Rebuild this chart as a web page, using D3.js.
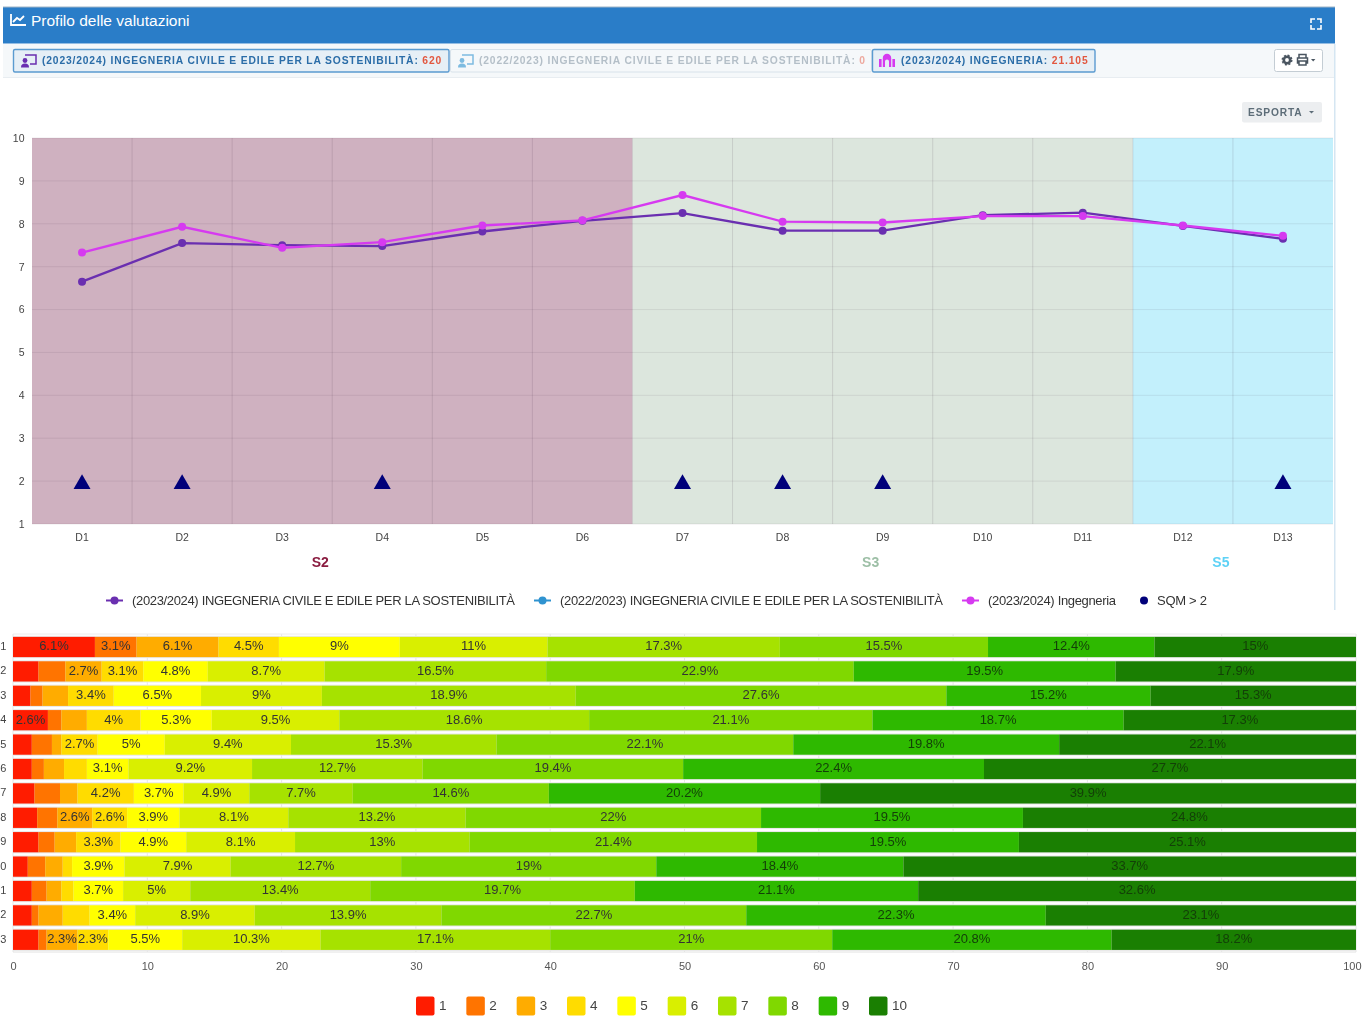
<!DOCTYPE html>
<html><head><meta charset="utf-8">
<script src="https://cdn.jsdelivr.net/npm/d3@7/dist/d3.min.js"></script>
<style>
html,body{margin:0;padding:0;background:#fff;overflow:hidden}
svg{display:block;font-family:"Liberation Sans",Arial,sans-serif;filter:blur(0.45px)}
</style></head><body><svg id="c" width="1362" height="1020"></svg>
<script>
// ---- data
const dims = ["D1","D2","D3","D4","D5","D6","D7","D8","D9","D10","D11","D12","D13"];
const cdsLine = [6.65,7.55,7.5,7.48,7.82,8.07,8.25,7.84,7.84,8.2,8.26,7.95,7.65];
const areaLine = [7.33,7.93,7.44,7.57,7.96,8.08,8.67,8.05,8.03,8.18,8.18,7.96,7.72];
const sqmFlagged = ["D1","D2","D4","D7","D8","D9","D13"];
const sqmValue = 2;
const sectionNames = ["S2","S3","S5"];
const sectionFirst = ["D1","D7","D12"];
const sectionLast = ["D6","D11","D13"];
const sectionFill = ["#cfb1c0","#dce6dd","#c3f0fc"];
const sectionText = ["#8a1c40","#9dbfa6","#5ed2f6"];
const yTicks = [1,2,3,4,5,6,7,8,9,10];
const legendTop = ["(2023/2024) INGEGNERIA CIVILE E EDILE PER LA SOSTENIBILITÀ","(2022/2023) INGEGNERIA CIVILE E EDILE PER LA SOSTENIBILITÀ","(2023/2024) Ingegneria","SQM > 2"];
const legendTopColors = ["#6a2fb0","#2f93d0","#d63af0","#00007a"];

const rowLabels = ["1","2","3","4","5","6","7","8","9","0","1","2","3"];
const row1 = [6.1,3.1,6.1,4.5,9,11,17.3,15.5,12.4,15];
const row2 = [1.9,2.0,2.7,3.1,4.8,8.7,16.5,22.9,19.5,17.9];
const row3 = [1.3,0.9,1.9,3.4,6.5,9,18.9,27.6,15.2,15.3];
const row4 = [2.6,1.0,1.9,4,5.3,9.5,18.6,21.1,18.7,17.3];
const row5 = [1.4,1.5,0.7,2.7,5,9.4,15.3,22.1,19.8,22.1];
const row6 = [1.4,0.9,1.5,1.7,3.1,9.2,12.7,19.4,22.4,27.7];
const row7 = [1.6,1.9,1.3,4.2,3.7,4.9,7.7,14.6,20.2,39.9];
const row8 = [1.8,1.5,2.6,2.6,3.9,8.1,13.2,22,19.5,24.8];
const row9 = [1.9,1.2,1.6,3.3,4.9,8.1,13,21.4,19.5,25.1];
const row10 = [1.1,1.3,1.3,0.7,3.9,7.9,12.7,19,18.4,33.7];
const row11 = [1.4,1.1,1.1,0.9,3.7,5,13.4,19.7,21.1,32.6];
const row12 = [1.4,0.5,1.8,2,3.4,8.9,13.9,22.7,22.3,23.1];
const row13 = [1.9,0.6,2.3,2.3,5.5,10.3,17.1,21,20.8,18.2];
const grades = ["1","2","3","4","5","6","7","8","9","10"];
const gradeColors = ["#ff1c00","#ff7400","#ffac00","#ffdc00","#ffff00","#d9ef00","#a6e200","#80d800","#2eb900","#1a7f02"];
const xTicks = [0,10,20,30,40,50,60,70,80,90,100];

const rows = [row1,row2,row3,row4,row5,row6,row7,row8,row9,row10,row11,row12,row13];
const svg = d3.select("#c");

// ---- panel chrome
svg.append("rect").attr("x",3).attr("y",7).attr("width",1332).attr("height",36.5).attr("fill","#2a7dc8");
svg.append("rect").attr("x",3).attr("y",6.5).attr("width",1332).attr("height",1).attr("fill","#9fb6c8");
svg.append("rect").attr("x",3).attr("y",44).attr("width",1332).attr("height",33.5).attr("fill","#f5f8fa");
svg.append("rect").attr("x",3).attr("y",77).attr("width",1332).attr("height",1).attr("fill","#e8edf1");
svg.append("rect").attr("x",1334).attr("y",44).attr("width",1.5).attr("height",566).attr("fill","#d5e6f2");
const hdr = svg.append("g");
hdr.append("path").attr("d","M11 14v11h15M13 22l4-4 3 2 4-4").attr("fill","none").attr("stroke","#fff").attr("stroke-width",1.8);
hdr.append("text").attr("x",31).attr("y",25.5).attr("fill","#fff").attr("font-size",15.5).text("Profilo delle valutazioni");
hdr.append("path").attr("d","M1311 23v-4h4M1317 19h4v4M1321 25v4h-4M1315 29h-4v-4").attr("fill","none").attr("stroke","#fff").attr("stroke-width",1.6);

const pills = [
 {x:13,w:435.5,faded:false,ls:0.84,label:"(2023/2024) INGEGNERIA CIVILE E EDILE PER LA SOSTENIBILITÀ: ",num:"620",icon:"#6a2fb0",kind:"screen"},
 {x:450,w:421,faded:true,ls:0.84,label:"(2022/2023) INGEGNERIA CIVILE E EDILE PER LA SOSTENIBILITÀ: ",num:"0",icon:"#2f93d0",kind:"screen"},
 {x:872,w:222.5,faded:false,ls:0.87,label:"(2023/2024) INGEGNERIA: ",num:"21.105",icon:"#d63af0",kind:"building"}];
pills.forEach(p=>{
  const g = svg.append("g");
  g.append("rect").attr("x",p.x+.5).attr("y",49.5).attr("width",p.w).attr("height",22.5).attr("rx",1.5)
    .attr("fill",p.faded?"#f5f8fa":"#e6eff6").attr("stroke",p.faded?"#d8e2ea":"#5b9bd0").attr("stroke-width",p.faded?1:1.4);
  const ic = g.append("g").attr("transform",`translate(${p.x+7},53)`).attr("opacity",p.faded?.6:1);
  if(p.kind==="screen"){
    ic.append("path").attr("d","M5 2H16V11H10").attr("fill","none").attr("stroke",p.icon).attr("stroke-width",1.5);
    ic.append("circle").attr("cx",5).attr("cy",7.5).attr("r",2.4).attr("fill",p.icon);
    ic.append("path").attr("d","M1 14.5c0-3 1.5-4 4-4s4 1 4 4z").attr("fill",p.icon);
  } else {
    ic.append("path").attr("d","M0 14V6h2.6v8zM13.4 14V6H16v8zM3.8 14V5a4.2 4.2 0 0 1 8.4 0V14H10V8.5a2 2 0 0 0-4 0V14z").attr("fill",p.icon);
  }
  const t = g.append("text").attr("x",p.x+29).attr("y",63.5).attr("font-size",10.3).attr("font-weight","bold").attr("letter-spacing",p.ls);
  t.append("tspan").attr("fill",p.faded?"#b4bfc8":"#2b6da8").text(p.label);
  t.append("tspan").attr("fill",p.faded?"#eda99f":"#e2573f").text(p.num);
});
const tool = svg.append("g");
tool.append("rect").attr("x",1274.5).attr("y",49.5).attr("width",48).attr("height",22).attr("rx",2).attr("fill","#fff").attr("stroke","#c4cdd4");
tool.append("circle").attr("cx",1287).attr("cy",60).attr("r",3.2).attr("fill","none").attr("stroke","#4a5560").attr("stroke-width",2.6);
tool.append("circle").attr("cx",1287).attr("cy",60).attr("r",4.8).attr("fill","none").attr("stroke","#4a5560").attr("stroke-width",1.4).attr("stroke-dasharray","2 1.77");
tool.append("path").attr("d","M1299 58v-3.5h7V58M1299 63h-1.5v-5h10v5H1306M1299 61h7v4h-7z").attr("fill","none").attr("stroke","#4a5560").attr("stroke-width",1.5);
tool.append("path").attr("d","M1311 59l4.4 0-2.2 2.4z").attr("fill","#4a5560");
const exp = svg.append("g");
exp.append("rect").attr("x",1242).attr("y",102).attr("width",80).attr("height",20.5).attr("rx",2).attr("fill","#eceef0");
exp.append("text").attr("x",1248).attr("y",116).attr("font-size",10.2).attr("font-weight","bold").attr("letter-spacing",0.85).attr("fill","#5d6d78").text("ESPORTA");
exp.append("path").attr("d","M1309 111l5 0-2.5 2.6z").attr("fill","#5d6d78");

// ---- profile chart
const x = d3.scaleBand().domain(dims).range([32,1333]);
const y = d3.scaleLinear().domain([1,10]).range([524,138]);
const upper = svg.append("g");
sectionNames.forEach((n,i)=>{
  const x0 = x(sectionFirst[i]), x1 = x(sectionLast[i])+x.bandwidth();
  upper.append("rect").attr("x",x0).attr("y",y(10)).attr("width",x1-x0).attr("height",y(1)-y(10)).attr("fill",sectionFill[i]);
  upper.append("text").attr("x",(x0+x1)/2-12).attr("y",567).attr("text-anchor","middle").attr("font-size",14).attr("font-weight","bold").attr("fill",sectionText[i]).text(n);
});
const gridC = "rgba(60,40,60,0.085)", gridV = "rgba(60,40,60,0.13)";
upper.append("g").selectAll("line").data(yTicks).join("line")
  .attr("x1",x.range()[0]).attr("x2",x.range()[1]).attr("y1",d=>y(d)).attr("y2",d=>y(d)).attr("stroke",gridC);
upper.append("g").selectAll("line").data(dims.slice(1)).join("line")
  .attr("x1",d=>x(d)).attr("x2",d=>x(d)).attr("y1",y(10)).attr("y2",y(1)).attr("stroke",gridV);
const ya = upper.append("g").attr("transform","translate(24.5,0)").call(d3.axisLeft(y).tickValues(yTicks).tickSize(0).tickPadding(0));
ya.select(".domain").remove();
ya.selectAll("text").attr("font-family","inherit").attr("font-size",10.5).attr("fill","#444");
const xa = upper.append("g").attr("transform","translate(0,524)").call(d3.axisBottom(x).tickSize(0).tickPadding(10));
xa.select(".domain").remove();
xa.selectAll("text").attr("font-family","inherit").attr("font-size",10.5).attr("fill","#444");

const line = d3.line().x((d,i)=>x(dims[i])+x.bandwidth()/2).y(d=>y(d));
[[cdsLine,legendTopColors[0]],[areaLine,legendTopColors[2]]].forEach(([vals,col])=>{
  upper.append("path").attr("d",line(vals)).attr("fill","none").attr("stroke",col).attr("stroke-width",2.3);
  upper.append("g").selectAll("circle").data(vals).join("circle")
    .attr("cx",(d,i)=>x(dims[i])+x.bandwidth()/2).attr("cy",d=>y(d)).attr("r",4).attr("fill",col);
});
const tri = d3.symbol().type(d3.symbolTriangle).size(125);
upper.append("g").selectAll("path").data(sqmFlagged).join("path")
  .attr("d",tri).attr("fill","#00007a")
  .attr("transform",d=>`translate(${x(d)+x.bandwidth()/2},${y(sqmValue)+3})`);

// upper legend
const legX = [132,560,988,1157], legW=[383,383,128,50];
legendTop.forEach((t,i)=>{
  const g = svg.append("g");
  if(i<3){
    g.append("line").attr("x1",legX[i]-26).attr("x2",legX[i]-9).attr("y1",600.5).attr("y2",600.5).attr("stroke",legendTopColors[i]).attr("stroke-width",2);
    g.append("circle").attr("cx",legX[i]-17.5).attr("cy",600.5).attr("r",4).attr("fill",legendTopColors[i]);
  } else {
    g.append("circle").attr("cx",legX[i]-13).attr("cy",600.5).attr("r",4).attr("fill",legendTopColors[i]);
  }
  g.append("text").attr("x",legX[i]).attr("y",604.5).attr("font-size",13).attr("fill","#333")
    .attr("textLength",legW[i]).attr("lengthAdjust","spacing").text(t);
});

// ---- stacked bars
const table = rows.map((r,i)=>{const o={id:i}; grades.forEach((g,j)=>o[g]=r[j]); return o;});
const stacked = d3.stack().keys(grades)(table);
const bx = d3.scaleLinear().domain([0,100]).range([13,1356]);
const by = d3.scaleBand().domain(d3.range(rows.length)).range([634.8,952]).paddingInner(0.17).paddingOuter(0.085);
const bot = svg.append("g");
bot.append("g").selectAll("line").data(xTicks).join("line")
  .attr("x1",d=>bx(d)).attr("x2",d=>bx(d)).attr("y1",634).attr("y2",952).attr("stroke","#e6e6e6");
bot.append("line").attr("x1",13).attr("x2",1356).attr("y1",634).attr("y2",634).attr("stroke","#ececec");
bot.append("line").attr("x1",13).attr("x2",1356).attr("y1",952).attr("y2",952).attr("stroke","#e2e2e2");
bot.append("g").selectAll("rect").data(d3.range(rows.length)).join("rect")
  .attr("x",13).attr("width",1343).attr("y",d=>by(d)-1).attr("height",by.bandwidth()+2).attr("fill","#e8e8e8");
stacked.forEach((s,k)=>{
  const g = bot.append("g");
  g.selectAll("rect").data(s).join("rect")
    .attr("x",d=>bx(d[0])).attr("width",d=>bx(d[1])-bx(d[0])).attr("y",(d,i)=>by(i)).attr("height",by.bandwidth()).attr("fill",gradeColors[k]);
});
stacked.forEach((s,k)=>{
  bot.append("g").selectAll("text").data(s.filter(d=>d[1]-d[0]>2.2)).join("text")
    .attr("x",d=>bx((d[0]+d[1])/2)).attr("y",d=>by(d.data.id)+by.bandwidth()/2+3.3)
    .attr("text-anchor","middle").attr("font-size",13).attr("fill",k>=8?"#134008":"#333")
    .text(d=>+(d[1]-d[0]).toFixed(1)+"%");
});
bot.append("g").selectAll("text").data(rowLabels).join("text")
  .attr("x",6.4).attr("text-anchor","end").attr("y",(d,i)=>by(i)+by.bandwidth()/2+3).attr("font-size",11).attr("fill","#444").text(d=>d);
const bxa = bot.append("g").attr("transform","translate(0,952)").call(d3.axisBottom(bx).tickValues(xTicks).tickSize(0).tickPadding(10).tickFormat(d3.format("d")));
bxa.select(".domain").remove();
bxa.selectAll("text").attr("font-family","inherit").attr("font-size",11).attr("fill","#555");
bxa.selectAll("text").filter(d=>d===100).attr("text-anchor","end").attr("x",1361-bx(100));

// bottom legend
const lg = d3.scalePoint().domain(grades).range([416,869]);
const lgG = svg.append("g").selectAll("g").data(grades).join("g").attr("transform",d=>`translate(${lg(d)},996.5)`);
lgG.append("rect").attr("width",18.5).attr("height",19).attr("rx",2).attr("fill",(d,i)=>gradeColors[i]);
lgG.append("text").attr("x",23).attr("y",13).attr("font-size",13.5).attr("fill","#444").text(d=>d);
</script></body></html>
